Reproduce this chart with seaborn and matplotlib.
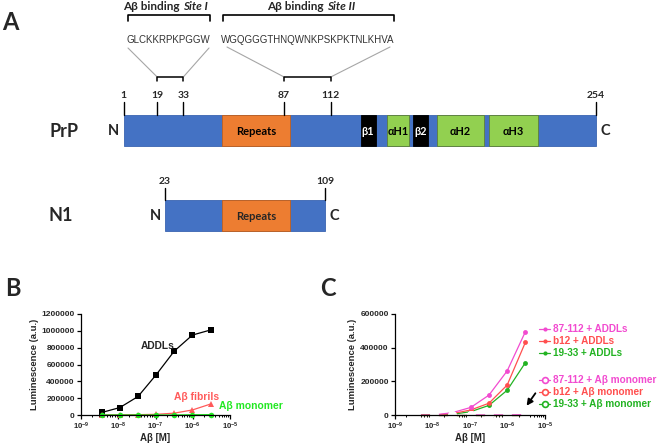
import numpy as np
import pandas as pd
import matplotlib
matplotlib.use('Agg')
import matplotlib.pyplot as plt
import seaborn as sns
from matplotlib.patches import Rectangle
from matplotlib.lines import Line2D

# ---- data ----
# schematic (residue numbers)
prp_ticks = [1, 19, 33, 87, 112, 254]
n1_ticks = [23, 109]
domain_names = ['Repeats', 'β1', 'αH1', 'β2', 'αH2', 'αH3']
domain_start = [54, 128, 142, 156, 169, 197]
domain_end = [90, 136, 154, 164, 194, 223]
site1_seq = 'GLCKKRPKPGGW'
site2_seq = 'WGQGGGTHNQWNKPSKPKTNLKHVA'

# panel B
conc = [3.6e-9, 1.1e-8, 3.4e-8, 1.05e-7, 3.2e-7, 9.8e-7, 3.0e-6]
b_addls = [30000, 88000, 220000, 480000, 760000, 950000, 1010000]
b_fibrils = [0, 2000, 4000, 8000, 22000, 60000, 130000]
b_monomer = [0, 0, 0, 0, 0, 3000, 4000]

# panel C
c_addls_87 = [0, 0, 14000, 45000, 118000, 262000, 495000]
c_addls_b12 = [0, 0, 8000, 30000, 70000, 178000, 432000]
c_addls_1933 = [0, 0, 4000, 20000, 57000, 147000, 311000]
c_mono_87 = [np.nan, np.nan, np.nan, 0, 0, 0, 2000]
c_mono_b12 = [0, 0, 0, 0, 0, 0, 0]
c_mono_1933 = [0, 0, 0, 0, 0, 0, 0]

MAG = '#F24BD0'
RED = '#FF4F4F'
GRN = '#22B322'

sns.set_style('ticks')
plt.rcParams['font.family'] = ['Liberation Sans', 'DejaVu Sans']
plt.rcParams['mathtext.fontset'] = 'custom'
plt.rcParams['mathtext.bf'] = 'Liberation Sans:bold'
plt.rcParams['mathtext.rm'] = 'Liberation Sans'

fig = plt.figure(figsize=(6.59, 4.44), dpi=100)

H = 444
W = 659


def ax_rect(x0, x1, ytop, ybot):
    return [x0 / W, 1 - ybot / H, (x1 - x0) / W, (ybot - ytop) / H]


axB = fig.add_axes(ax_rect(81, 230, 314, 415))
axC = fig.add_axes(ax_rect(395, 545, 314, 415))


def style_axis(ax, ymax, ystep):
    ax.set_xscale('log')
    ax.set_xlim(1e-9, 1e-5)
    ax.set_ylim(0, ymax)
    yt = list(range(0, ymax + 1, ystep))
    ax.set_yticks(yt)
    ax.set_yticklabels([str(v) for v in yt], fontweight='bold', fontsize=6)
    xt = [1e-9, 1e-8, 1e-7, 1e-6, 1e-5]
    ax.set_xticks(xt)
    ax.set_xticklabels([r'$\mathbf{10^{%d}}$' % int(np.log10(v)) for v in xt], fontsize=5.6)
    ax.xaxis.set_minor_locator(matplotlib.ticker.LogLocator(base=10, subs=np.arange(2, 10), numticks=20))
    ax.xaxis.set_minor_formatter(matplotlib.ticker.NullFormatter())
    ax.tick_params(axis='both', which='major', length=3, width=0.9, pad=1.5, color='black')
    ax.tick_params(axis='x', which='major', pad=1)
    ax.tick_params(axis='x', which='minor', length=1.6, width=0.7, color='black')
    ax.set_facecolor('none')
    sns.despine(ax=ax)
    for s in ['left', 'bottom']:
        ax.spines[s].set_linewidth(0.9)
        ax.spines[s].set_color('black')
    ax.set_ylabel('Luminescence (a.u.)', fontsize=6.8, fontweight='bold', labelpad=2)
    ax.set_xlabel('Aβ [M]', fontsize=7, fontweight='bold')
    ax.xaxis.set_label_coords(0.5, -0.175)


# ---- panel B ----
dfB = pd.DataFrame({
    'conc': conc * 3,
    'lum': b_addls + b_fibrils + b_monomer,
    'series': ['ADDLs'] * 7 + ['fibrils'] * 7 + ['monomer'] * 7,
})
sns.lineplot(data=dfB, x='conc', y='lum', hue='series', style='series',
             markers={'ADDLs': 's', 'fibrils': '^', 'monomer': 'o'}, dashes=False,
             palette={'ADDLs': 'black', 'fibrils': '#FF5A5A', 'monomer': '#22E822'},
             markersize=4, markeredgewidth=0, linewidth=0.9, legend=False, ax=axB)
style_axis(axB, 1200000, 200000)

# ---- panel C ----
dfCa = pd.DataFrame({
    'conc': conc * 3,
    'lum': c_addls_1933 + c_addls_b12 + c_addls_87,
    'series': ['19-33'] * 7 + ['b12'] * 7 + ['87-112'] * 7,
})
dfCm = pd.DataFrame({
    'conc': conc * 3,
    'lum': c_mono_b12 + c_mono_1933 + c_mono_87,
    'series': ['b12'] * 7 + ['19-33'] * 7 + ['87-112'] * 7,
}).dropna()
pal = {'87-112': MAG, 'b12': RED, '19-33': GRN}
sns.lineplot(data=dfCa, x='conc', y='lum', hue='series', palette=pal, marker='o',
             markersize=3.5, markeredgewidth=0, linewidth=0.9, legend=False, ax=axC)
sns.lineplot(data=dfCm, x='conc', y='lum', hue='series', palette=pal, marker='o',
             markersize=5, markerfacecolor='white', markeredgewidth=1.4,
             linewidth=0.9, legend=False, ax=axC)
style_axis(axC, 600000, 200000)

for ax in (axB, axC):
    for ln in ax.lines:
        ln.set_clip_on(False)

labels_add = ['87-112 + ADDLs', 'b12 + ADDLs', '19-33 + ADDLs']
labels_mono = ['87-112 + Aβ monomer', 'b12 + Aβ monomer', '19-33 + Aβ monomer']
cols = [MAG, RED, GRN]
h1 = [Line2D([], [], color=c, marker='o', markersize=3, markeredgewidth=0, lw=0.9) for c in cols]
h2 = [Line2D([], [], color=c, marker='o', markersize=4.2, markerfacecolor='white',
             markeredgewidth=1.2, lw=0.9) for c in cols]
leg_kw = dict(frameon=False, handlelength=1.1, handletextpad=0.3, labelspacing=0.2,
              borderpad=0, borderaxespad=0, prop={'weight': 'bold', 'size': 7.2},
              bbox_transform=fig.transFigure, loc='center left')
leg1 = axC.legend(h1, labels_add, labelcolor=cols, bbox_to_anchor=(539 / W, 1 - 341.5 / H), **leg_kw)
axC.add_artist(leg1)
axC.legend(h2, labels_mono, labelcolor=cols, bbox_to_anchor=(539 / W, 1 - 392 / H), **leg_kw)

# ---- overlay for schematic and annotations ----
ax0 = fig.add_axes([0, 0, 1, 1], zorder=5)
ax0.set_xlim(0, W)
ax0.set_ylim(H, 0)
ax0.axis('off')
ax0.patch.set_alpha(0)

SF = ['Lato', 'DejaVu Sans']


def rx(res):
    return 123.6 + (res - 1) * 1.866


# panel letters
for t, x, y in [('A', 10, 22), ('B', 13, 288), ('C', 328, 288)]:
    ax0.text(x, y, t, fontsize=17, fontweight='bold', family=SF, ha='center', va='center')

# binding site headers
ax0.text(180, 7, 'Aβ binding', fontsize=8.5, fontweight='bold', family=SF, ha='right', va='center')
ax0.text(183, 7, 'Site I', fontsize=8.5, fontweight='bold', style='italic', family=SF, ha='left', va='center')
ax0.text(324, 7, 'Aβ binding', fontsize=8.5, fontweight='bold', family=SF, ha='right', va='center')
ax0.text(327, 7, 'Site II', fontsize=8.5, fontweight='bold', style='italic', family=SF, ha='left', va='center')
ax0.plot([127.5, 127.5, 210, 210], [21, 15.5, 15.5, 21], color='black', lw=1.2)
ax0.plot([223, 223, 394, 394], [21, 15.5, 15.5, 21], color='black', lw=1.2)

ax0.text(168.5, 40, site1_seq, fontsize=7, color='#333333', ha='center', va='center')
ax0.text(308, 40, site2_seq, fontsize=7, color='#333333', ha='center', va='center')

# lines to residue windows
ax0.plot([128, rx(19)], [48, 77], color='#A6A6A6', lw=0.8)
ax0.plot([209, rx(33)], [48, 77], color='#A6A6A6', lw=0.8)
ax0.plot([227, rx(87)], [47, 77], color='#A6A6A6', lw=0.8)
ax0.plot([390, rx(112)], [47, 77], color='#A6A6A6', lw=0.8)
for a, b in [(19, 33), (87, 112)]:
    ax0.plot([rx(a), rx(a), rx(b), rx(b)], [81, 77, 77, 81], color='black', lw=1.1)

# PrP bar
ax0.add_patch(Rectangle((rx(1), 115), rx(254) - rx(1), 31, facecolor='#4472C4',
                        edgecolor='#3A64B0', lw=0.6))
dom_col = ['#ED7D31', 'black', '#92D050', 'black', '#92D050', '#92D050']
for name, s, e, c in zip(domain_names, domain_start, domain_end, dom_col):
    ax0.add_patch(Rectangle((rx(s), 115), rx(e) - rx(s), 31, facecolor=c,
                            edgecolor='#5E7F3A' if c == '#92D050' else ('#C0601E' if c == '#ED7D31' else 'black'),
                            lw=0.6))
    ax0.text((rx(s) + rx(e)) / 2, 131, name, fontsize=8 if name == 'Repeats' else 7.8,
             fontweight='bold', family=SF, color='white' if c == 'black' else 'black',
             ha='center', va='center')
for r in prp_ticks:
    ax0.plot([rx(r), rx(r)], [102, 115], color='black', lw=1.0)
    ax0.text(rx(r), 95, str(r), fontsize=7.5, fontweight='bold', family=SF, ha='center', va='center')
ax0.text(64, 131, 'PrP', fontsize=13, fontweight='bold', family=SF, ha='center', va='center')
ax0.text(113, 131, 'N', fontsize=10.5, fontweight='bold', family=SF, ha='center', va='center')
ax0.text(605.5, 131, 'C', fontsize=10.5, fontweight='bold', family=SF, ha='center', va='center')

# N1 bar
ax0.add_patch(Rectangle((rx(23), 200), rx(109) - rx(23), 31, facecolor='#4472C4',
                        edgecolor='#3A64B0', lw=0.6))
ax0.add_patch(Rectangle((rx(domain_start[0]), 200), rx(domain_end[0]) - rx(domain_start[0]), 31,
                        facecolor='#ED7D31', edgecolor='#C0601E', lw=0.6))
ax0.text((rx(domain_start[0]) + rx(domain_end[0])) / 2, 216, 'Repeats', fontsize=8,
         fontweight='bold', family=SF, ha='center', va='center')
for r in n1_ticks:
    ax0.plot([rx(r), rx(r)], [188, 200], color='black', lw=1.0)
    ax0.text(rx(r), 181, str(r), fontsize=7.5, fontweight='bold', family=SF, ha='center', va='center')
ax0.text(61, 215, 'N1', fontsize=13, fontweight='bold', family=SF, ha='center', va='center')
ax0.text(155, 216, 'N', fontsize=10.5, fontweight='bold', family=SF, ha='center', va='center')
ax0.text(334, 216, 'C', fontsize=10.5, fontweight='bold', family=SF, ha='center', va='center')

# panel B annotations
ax0.text(158, 346, 'ADDLs', fontsize=7.4, fontweight='bold', ha='center', va='center')
ax0.text(197, 397, 'Aβ fibrils', fontsize=7.4, fontweight='bold', color='#FF5A5A', ha='center', va='center')
ax0.text(251, 406, 'Aβ monomer', fontsize=7.4, fontweight='bold', color='#22E822', ha='center', va='center')

# arrow in panel C
ax0.annotate('', xy=(525, 408), xytext=(537, 391),
             arrowprops=dict(arrowstyle='-|>', color='black', lw=1.3, mutation_scale=9))

fig.savefig('out.png', dpi=100)
